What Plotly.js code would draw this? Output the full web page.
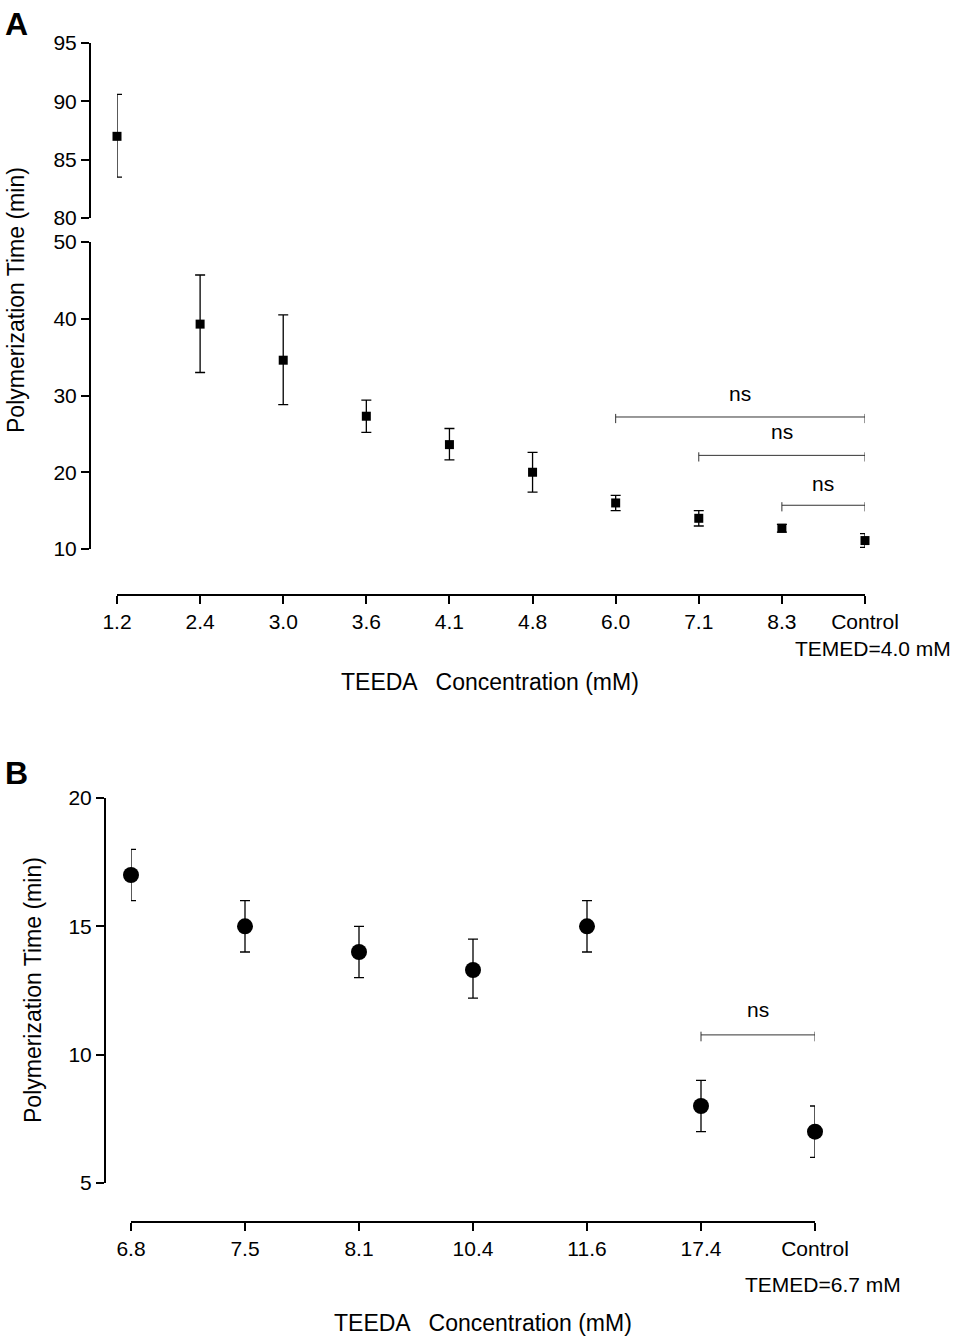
<!DOCTYPE html>
<html><head><meta charset="utf-8">
<script src="https://cdn.plot.ly/plotly-3.0.1.min.js"></script>
<style>body{margin:0}</style></head>
<body><div id="plot" style="width:955px;height:1340px"></div>
<script>
const catsA = ["1.2","2.4","3.0","3.6","4.1","4.8","6.0","7.1","8.3","Control"];
const meanA = [87, 39.3, 34.6, 27.3, 23.6, 20.0, 16.0, 14.0, 12.7, 11.1];
const upA   = [90.6, 45.7, 40.5, 29.4, 25.7, 22.6, 17.0, 15.0, 13.2, 12.0];
const loA   = [83.5, 33.0, 28.8, 25.2, 21.6, 17.4, 15.0, 13.0, 12.2, 10.2];
const catsB = ["6.8","7.5","8.1","10.4","11.6","17.4","Control"];
const meanB = [17, 15, 14, 13.3, 15, 8, 7];
const upB   = [18, 16, 15, 14.5, 16, 9, 8];
const loB   = [16, 14, 13, 12.2, 14, 7, 6];

const F = "Liberation Sans, Arial, sans-serif";
const idxA = catsA.map((_, i) => i), idxB = catsB.map((_, i) => i);
const err = (m, u, l) => ({type:'data', symmetric:false, array:m.map((v,i)=>u[i]-v), arrayminus:m.map((v,i)=>v-l[i]), color:'#000', thickness:1.3, width:5});

const topIdx = [0], botIdx = idxA.slice(1);
const traces = [
 {x: topIdx, y: topIdx.map(i=>meanA[i]), xaxis:'x', yaxis:'y2', mode:'markers', cliponaxis:false, marker:{symbol:'square', size:9, color:'#000'},
  error_y: err(topIdx.map(i=>meanA[i]), topIdx.map(i=>upA[i]), topIdx.map(i=>loA[i]))},
 {x: botIdx, y: botIdx.map(i=>meanA[i]), xaxis:'x', yaxis:'y', mode:'markers', cliponaxis:false, marker:{symbol:'square', size:9, color:'#000'},
  error_y: err(botIdx.map(i=>meanA[i]), botIdx.map(i=>upA[i]), botIdx.map(i=>loA[i]))},
 {x: idxB, y: meanB, xaxis:'x2', yaxis:'y3', mode:'markers', cliponaxis:false, marker:{symbol:'circle', size:16, color:'#000'},
  error_y: err(meanB, upB, loB)}
];

const ax = {showgrid:false, zeroline:false, showline:true, linecolor:'#000', linewidth:2, ticks:'outside', ticklen:8, tickwidth:2, tickcolor:'#000', tickfont:{family:F, size:21, color:'#000'}};

function bracket(xr, yr, x0, x1, y, d, label, ly){
  const s = [
    {type:'line', xref:xr, yref:yr, x0:x0, x1:x1, y0:y, y1:y, line:{color:'#333', width:1}},
    {type:'line', xref:xr, yref:yr, x0:x0, x1:x0, y0:y+d/2, y1:y-d, line:{color:'#333', width:1}},
    {type:'line', xref:xr, yref:yr, x0:x1, x1:x1, y0:y+d/2, y1:y-d, line:{color:'#333', width:1}}
  ];
  const a = {xref:xr, yref:yr, x:(x0+x1)/2, y:ly, text:label, showarrow:false, font:{family:F, size:21, color:'#000'}};
  return [s, a];
}
const shapes = [], anns = [];
[[6,9,27.2,30.2],[7,9,22.2,25.3],[8,9,15.7,18.6]].forEach(b=>{const [s,a]=bracket('x','y',b[0],b[1],b[2],0.8,'ns',b[3]); shapes.push(...s); anns.push(a);});
{const [s,a]=bracket('x2','y3',5,6,10.77,0.25,'ns',11.75); shapes.push(...s); anns.push(a);}

const T = {family:F, size:23, color:'#000'};
anns.push(
 {xref:'paper', yref:'paper', x:0.003, y:0.997, xanchor:'left', yanchor:'top', text:'<b>A</b>', showarrow:false, font:{family:F, size:32, color:'#000'}},
 {xref:'paper', yref:'paper', x:0.003, y:0.438, xanchor:'left', yanchor:'top', text:'<b>B</b>', showarrow:false, font:{family:F, size:32, color:'#000'}},
 {xref:'paper', yref:'paper', x:490/955, y:1-682/1340, xanchor:'center', yanchor:'middle', text:'TEEDA   Concentration (mM)', showarrow:false, font:T},
 {xref:'paper', yref:'paper', x:483/955, y:1-1323/1340, xanchor:'center', yanchor:'middle', text:'TEEDA   Concentration (mM)', showarrow:false, font:T},
 {xref:'paper', yref:'paper', x:16/955, y:1-300/1340, xanchor:'center', yanchor:'middle', text:'Polymerization Time (min)', textangle:-90, showarrow:false, font:T},
 {xref:'paper', yref:'paper', x:33/955, y:1-990/1340, xanchor:'center', yanchor:'middle', text:'Polymerization Time (min)', textangle:-90, showarrow:false, font:T},
 {xref:'paper', yref:'paper', x:953/955, y:1-648/1340, xanchor:'right', yanchor:'middle', text:'TEMED=4.0 mM', showarrow:false, font:{family:F, size:21, color:'#000'}},
 {xref:'paper', yref:'paper', x:903/955, y:1-1284/1340, xanchor:'right', yanchor:'middle', text:'TEMED=6.7 mM', showarrow:false, font:{family:F, size:21, color:'#000'}}
);

const layout = {
  width:955, height:1340, margin:{l:0, r:0, t:0, b:0}, showlegend:false,
  paper_bgcolor:'#fff', plot_bgcolor:'rgba(0,0,0,0)',
  xaxis: Object.assign({}, ax, {domain:[117/955, 865/955], range:[0,9], anchor:'free', position:1-595/1340, tickvals:idxA, ticktext:catsA}),
  yaxis: Object.assign({}, ax, {domain:[1-549/1340, 1-242/1340], range:[10,50], tickvals:[10,20,30,40,50], anchor:'free', position:90/955}),
  yaxis2: Object.assign({}, ax, {domain:[1-218/1340, 1-43/1340], range:[80,95], tickvals:[80,85,90,95], anchor:'free', position:90/955}),
  xaxis2: Object.assign({}, ax, {domain:[131/955, 815/955], range:[0,6], anchor:'free', position:1-1222/1340, tickvals:idxB, ticktext:catsB}),
  yaxis3: Object.assign({}, ax, {domain:[1-1183/1340, 1-798/1340], range:[5,20], tickvals:[5,10,15,20], anchor:'free', position:105/955}),
  shapes: shapes, annotations: anns
};
Plotly.newPlot('plot', traces, layout, {displayModeBar:false});
</script></body></html>
